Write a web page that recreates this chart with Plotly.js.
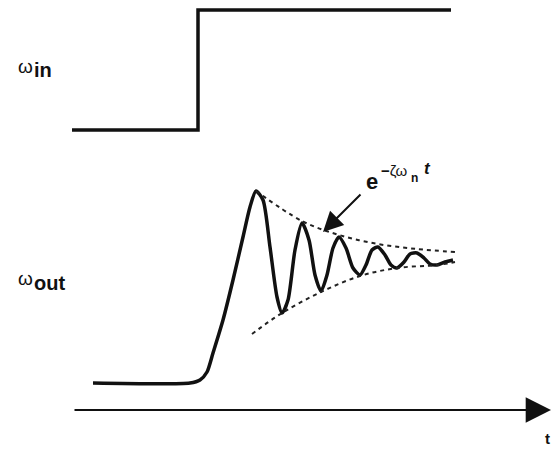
<!DOCTYPE html>
<html>
<head>
<meta charset="utf-8">
<script src="https://cdn.plot.ly/plotly-3.0.1.min.js"></script>
<style>html,body{margin:0;padding:0;background:#fff;}#chart{width:552px;height:450px;}</style>
</head>
<body>
<div id="chart"></div>
<script>
// Input step (omega_in)
const stepX = [72, 198, 198, 451];
const stepY = [130, 130, 10, 10];

// Output response (omega_out)
const outX = [93, 190, 200, 207, 213, 223, 233, 243, 250, 256, 263, 270, 277, 282, 288, 295, 302, 309, 315, 321, 327, 333, 339, 346, 353, 360, 366, 372, 378, 385, 391, 397, 404, 410, 417, 424, 430, 437, 445, 453];
const outY = [383, 383, 380, 372, 353, 320, 280, 237, 207, 191, 200, 247, 297, 313, 300, 250, 223, 240, 275, 291, 275, 248, 237, 248, 268, 275, 265, 250, 247, 255, 265, 268, 262, 254, 253, 258, 264, 265, 262, 260];

// Decay envelopes
const upperX = [256, 302, 339, 378, 417, 455];
const upperY = [191, 221, 235, 244, 249, 252];
const lowerX = [252, 282, 321, 360, 397, 437, 455];
const lowerY = [334, 313, 292, 276, 268, 265, 262];

// Time axis
const axisX = [73, 551];
const axisY = [410, 410];

const traces = [
  {x: stepX, y: stepY, mode: 'lines', line: {color: '#111', width: 3.5, shape: 'linear'}, hoverinfo: 'skip'},
  {x: outX, y: outY, mode: 'lines', line: {color: '#111', width: 3.5, shape: 'spline', smoothing: 0.7}, hoverinfo: 'skip'},
  {x: upperX, y: upperY, mode: 'lines', line: {color: '#222', width: 2, dash: '4px,4px', shape: 'spline'}, hoverinfo: 'skip'},
  {x: lowerX, y: lowerY, mode: 'lines', line: {color: '#222', width: 2, dash: '4px,4px', shape: 'spline'}, hoverinfo: 'skip'}
];

function txt(x, y, text, size, anchor) {
  return {x: x, y: y, xref: 'x', yref: 'y', xanchor: anchor || 'left', yanchor: 'middle',
          showarrow: false, text: text, font: {size: size}};
}

const layout = {
  width: 552, height: 450,
  margin: {l: 0, r: 0, t: 0, b: 0},
  paper_bgcolor: '#fff', plot_bgcolor: '#fff',
  showlegend: false,
  xaxis: {range: [0, 552], visible: false, fixedrange: true},
  yaxis: {range: [450, 0], visible: false, fixedrange: true},
  font: {family: 'Liberation Sans, Arial, sans-serif', color: '#111'},
  annotations: [
    {x: axisX[1], y: axisY[1], ax: axisX[0], ay: axisY[0], axref: 'x', ayref: 'y', xref: 'x', yref: 'y',
     showarrow: true, arrowhead: 2, arrowsize: 2.3, arrowwidth: 2.2, arrowcolor: '#111', text: ''},
    {x: 323, y: 232, ax: 362, ay: 193, axref: 'x', ayref: 'y', xref: 'x', yref: 'y',
     showarrow: true, arrowhead: 2, arrowsize: 2, arrowwidth: 2, arrowcolor: '#111', text: ''},
    txt(16, 66, 'ω', 19),
    txt(32, 70, '<b>in</b>', 20),
    txt(16, 278, 'ω', 19),
    txt(32, 283, '<b>out</b>', 20),
    txt(364, 181, '<b>e</b>', 22),
    txt(379, 170, '<b>−</b>ζω', 15),
    txt(409, 178, '<b>n</b>', 12),
    txt(422, 168, '<b><i>t</i></b>', 17),
    txt(552, 438, '<b>t</b>', 15, 'right')
  ]
};

Plotly.newPlot('chart', traces, layout, {staticPlot: true, displayModeBar: false});
</script>
</body>
</html>
